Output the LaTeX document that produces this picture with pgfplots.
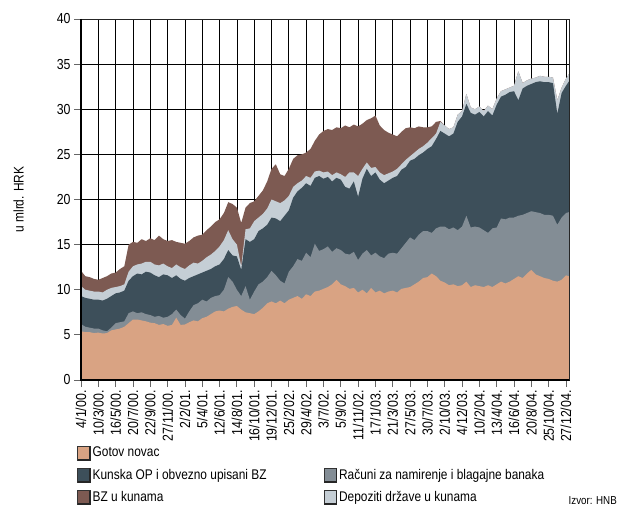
\documentclass[border=0pt]{standalone}
\usepackage{fontspec}
\setmainfont{Liberation Sans}[FakeStretch=0.85]
\usepackage{pgfplots}
\pgfplotsset{compat=1.18}
\usepackage{pgfplotstable}

\definecolor{tanc}{RGB}{217,163,131}
\definecolor{grayc}{RGB}{131,141,149}
\definecolor{darkc}{RGB}{61,79,90}
\definecolor{lightc}{RGB}{197,206,213}
\definecolor{brownc}{RGB}{125,90,82}

\newcommand{\legsq}[1]{%
  \draw[black!80, line width=0.6bp, fill=#1] (0bp,-7bp) rectangle (12.5bp,7bp);
  \draw[black!85, line width=1.4bp] (12.5bp,6.5bp) -- (12.5bp,-7bp) -- (0.5bp,-7bp);
}

% cumulative tops of the stacked layers (T: Gotov novac, G: Racuni, D: Kunska OP, L: Depoziti, B: BZ)
\pgfplotstableread{
k T G D L B
0 5.4 6.2 9.3 10.4 12.1
1 5.3 5.9 9.1 10.0 11.5
2 5.3 5.8 9.0 9.9 11.4
3 5.2 5.7 8.9 9.8 11.2
4 5.25 5.7 8.9 9.8 11.1
5 5.15 5.5 8.8 9.7 11.3
6 5.2 5.4 9.0 10.0 11.5
7 5.5 5.8 9.3 10.2 11.8
8 5.6 6.3 9.6 10.3 11.9
9 5.7 6.4 9.7 10.4 12.3
10 5.9 6.5 9.9 10.6 12.6
11 6.3 7.4 11.0 12.0 15.0
12 6.7 7.6 11.5 12.6 15.3
13 6.7 7.4 11.8 12.8 15.2
14 6.6 7.5 11.7 12.9 15.6
15 6.5 7.3 12.0 13.1 15.4
16 6.35 7.2 11.9 13.1 15.7
17 6.3 7.0 11.6 12.8 15.5
18 6.1 7.1 11.4 12.7 16.0
19 6.2 6.9 11.7 12.9 15.6
20 6.0 7.0 11.6 12.6 15.4
21 6.1 7.3 11.3 12.4 15.5
22 6.9 7.8 11.6 12.8 15.3
23 6.1 7.2 11.2 12.5 15.2
24 6.15 6.8 11.0 12.3 15.1
25 6.4 7.6 11.3 12.7 15.4
26 6.6 8.3 11.5 13.0 15.8
27 6.5 8.5 11.7 12.9 16.0
28 6.85 8.9 11.9 13.2 16.1
29 7.0 8.7 12.1 13.6 16.6
30 7.3 9.1 12.3 13.9 17.0
31 7.6 9.3 12.6 14.3 17.5
32 7.7 9.4 12.8 14.8 17.8
33 7.6 10.0 13.4 15.5 18.5
34 7.9 11.4 14.4 16.6 19.7
35 8.1 10.9 13.8 15.6 19.5
36 8.2 10.0 13.7 15.0 19.1
37 7.8 9.3 12.2 12.6 17.4
38 7.5 10.4 15.6 16.7 19.1
39 7.4 8.9 15.3 16.8 19.6
40 7.3 9.8 15.6 17.6 19.8
41 7.6 10.6 16.5 18.0 20.4
42 8.0 10.9 16.8 18.4 21.0
43 8.5 11.4 17.2 19.0 22.0
44 8.7 12.1 18.0 20.0 23.4
45 8.5 11.6 17.9 19.8 23.9
46 8.8 11.0 17.6 19.6 22.8
47 8.5 10.7 18.2 19.9 22.6
48 8.9 12.0 18.8 20.4 23.4
49 9.1 12.6 20.2 21.4 24.5
50 9.3 13.4 20.9 21.8 24.9
51 9.0 13.2 21.3 22.1 25.0
52 9.5 14.1 21.8 22.6 25.2
53 9.3 13.6 21.5 22.4 25.6
54 9.8 15.1 22.4 23.1 26.5
55 9.9 14.3 22.6 23.2 27.2
56 10.1 14.5 22.3 23.0 27.6
57 10.3 14.8 22.5 23.1 27.8
58 10.6 14.2 22.0 22.7 27.7
59 11.1 14.6 22.4 23.0 28.0
60 10.6 14.4 22.2 22.8 27.9
61 10.4 14.0 21.4 22.5 28.2
62 10.1 13.9 21.2 23.0 28.0
63 10.2 14.2 22.0 23.0 28.3
64 9.7 13.3 20.3 22.6 28.1
65 10.0 14.0 22.3 23.4 28.4
66 9.6 14.4 23.4 24.1 28.8
67 10.2 13.8 22.6 23.5 29.0
68 9.7 14.1 23.0 23.6 29.3
69 9.9 13.7 22.2 23.0 28.2
70 9.6 13.5 21.8 22.7 27.7
71 9.8 14.0 22.1 22.9 27.4
72 9.9 14.1 22.4 23.1 27.2
73 9.7 14.0 22.6 23.4 27.0
74 10.1 14.6 23.3 23.9 27.5
75 10.2 15.2 23.6 24.4 27.9
76 10.3 15.8 24.3 24.8 28.0
77 10.6 15.5 24.5 25.2 27.9
78 10.9 16.1 24.9 25.6 28.1
79 11.3 16.5 25.2 25.9 28.0
80 11.4 16.5 25.6 26.3 28.0
81 11.8 16.3 25.9 26.8 28.1
82 11.5 16.8 26.7 27.3 28.6
83 11.0 17.0 27.6 28.6 28.7
84 10.8 17.0 27.3 28.2 28.2
85 10.5 16.7 27.0 27.8 27.8
86 10.6 16.9 27.3 28.0 28.0
87 10.4 16.6 28.6 29.4 29.4
88 10.5 17.0 29.2 29.8 29.8
89 10.9 18.2 30.6 31.7 31.7
90 10.3 16.9 29.6 30.2 30.2
91 10.5 17.0 29.4 30.0 30.0
92 10.4 16.9 29.7 30.3 30.3
93 10.3 16.6 29.2 29.8 29.8
94 10.5 16.3 29.8 30.4 30.4
95 10.3 16.8 29.3 30.0 30.0
96 10.6 16.9 30.5 31.2 31.2
97 10.9 17.9 31.4 32.0 32.0
98 10.7 17.8 31.6 32.2 32.2
99 10.9 18.0 31.9 32.4 32.4
100 11.2 18.0 32.0 32.6 32.6
101 11.5 18.2 31.0 34.2 34.2
102 11.3 18.3 32.3 32.9 32.9
103 11.8 18.5 32.6 33.2 33.2
104 12.2 18.7 32.8 33.4 33.4
105 11.7 18.6 33.0 33.5 33.5
106 11.5 18.5 33.1 33.7 33.7
107 11.3 18.3 33.0 33.6 33.6
108 11.2 18.3 33.0 33.6 33.6
109 11.0 18.2 32.9 33.5 33.5
110 10.9 17.2 29.5 31.0 31.0
111 11.1 18.0 31.8 32.4 32.4
112 11.6 18.5 32.6 33.4 33.4
112.7 11.5 18.6 33.1 33.9 33.9
}\data

\begin{document}
\begin{tikzpicture}
\begin{axis}[
  name=ax,
  width=488bp, height=361bp, scale only axis,
  xmin=0, xmax=112.7, ymin=0, ymax=40,
  clip=false,
  xtick={0,4,...,112},
  xticklabels={4/1/00.,10/3/00.,16/5/00.,20/7/00.,22/9/00.,27/11/00.,2/2/01.,5/4/01.,12/6/01.,14/8/01.,16/10/01.,19/12/01.,25/2/02.,29/4/02.,3/7/02.,5/9/02.,11/11/02.,17/1/03.,21/3/03.,27/5/03.,30/7/03.,2/10/03.,4/12/03.,10/2/04.,13/4/04.,16/6/04.,20/8/04.,25/10/04.,27/12/04.},
  ytick={0,5,...,40},
  grid=major,
  major grid style={black, line width=0.7bp},
  tick pos=left,
  tick align=outside,
  major tick length=7bp,
  tick style={black!60, line width=0.8bp},
  axis line style={black, line width=0.8bp},
  /pgf/number format/assume math mode=true,
  x tick label style={rotate=90, anchor=east, font=\fontsize{14.5bp}{14.5bp}\selectfont},
  y tick label style={font=\fontsize{14.5bp}{14.5bp}\selectfont},
  legend columns=2,
  legend cell align=left,
  legend style={draw=none, fill=none, at={(0,0)}, anchor=north west,
    xshift=-4bp, yshift=-65bp, inner sep=0pt,
    font=\fontsize{14bp}{16bp}\selectfont,
    row sep=6.5bp,
    /tikz/column 2/.style={column sep=55bp}},
]
\addlegendimage{legend image code/.code={\legsq{tanc}}}
\addlegendentry{Gotov novac}
\addlegendimage{empty legend}
\addlegendentry{}
\addlegendimage{legend image code/.code={\legsq{darkc}}}
\addlegendentry{Kunska OP i obvezno upisani BZ}
\addlegendimage{legend image code/.code={\legsq{grayc}}}
\addlegendentry{Računi za namirenje i blagajne banaka}
\addlegendimage{legend image code/.code={\legsq{brownc}}}
\addlegendentry{BZ u kunama}
\addlegendimage{legend image code/.code={\legsq{lightc}}}
\addlegendentry{Depoziti države u kunama}

\addplot[forget plot, draw=none, fill=brownc] table[x=k, y=B] {\data} \closedcycle;
\addplot[forget plot, draw=none, fill=lightc] table[x=k, y=L] {\data} \closedcycle;
\addplot[forget plot, draw=none, fill=darkc] table[x=k, y=D] {\data} \closedcycle;
\addplot[forget plot, draw=none, fill=grayc] table[x=k, y=G] {\data} \closedcycle;
\addplot[forget plot, draw=none, fill=tanc] table[x=k, y=T] {\data} \closedcycle;

\draw[black!85, line width=0.8bp] (rel axis cs:0,1) -- (rel axis cs:1,1) -- (rel axis cs:1,0);
\draw[black, line width=1.8bp] (rel axis cs:0,1) -- (rel axis cs:0,0) -- (rel axis cs:1,0);
\end{axis}
\node[rotate=90, anchor=south, inner sep=0pt, font=\fontsize{14bp}{14bp}\selectfont] at ([xshift=-57bp]ax.west) {u mlrd. HRK};
\node[anchor=base east, inner sep=0pt, font=\fontsize{11.5bp}{12bp}\selectfont] at ([shift={(48bp,-124bp)}]ax.south east) {Izvor: HNB};
\path ([shift={(-81bp,-128bp)}]ax.south west) rectangle ([shift={(53bp,19bp)}]ax.north east);
\end{tikzpicture}
\end{document}
